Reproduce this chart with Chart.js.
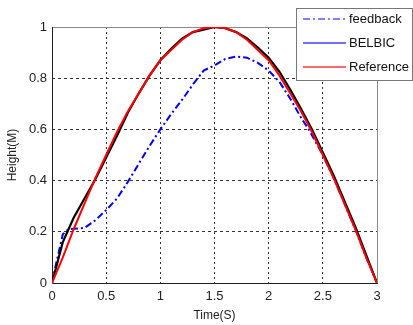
<!DOCTYPE html>
<html>
<head>
<meta charset="utf-8">
<script src="https://cdn.jsdelivr.net/npm/chart.js@4/dist/chart.umd.min.js"></script>
<style>
html,body{margin:0;padding:0;background:#fff;}
#wrap{width:413px;height:325px;}
</style>
</head>
<body>
<div id="wrap"><canvas id="c" width="413" height="325"></canvas></div>
<script>
// ---- data ----
const timeRef = [0,0.1,0.2,0.3,0.4,0.5,0.6,0.7,0.8,0.9,1.0,1.1,1.2,1.3,1.4,1.5,1.6,1.7,1.8,1.9,2.0,2.1,2.2,2.3,2.4,2.5,2.6,2.7,2.8,2.9,3.0];
const referenceVals = [0,0.10,0.21,0.31,0.41,0.50,0.59,0.67,0.74,0.81,0.87,0.91,0.95,0.98,0.995,1.0,0.995,0.98,0.95,0.91,0.87,0.81,0.74,0.67,0.59,0.50,0.41,0.31,0.21,0.10,0];
const belbicVals = [0,0.16,0.255,0.33,0.405,0.49,0.575,0.665,0.74,0.81,0.87,0.915,0.955,0.98,0.99,1.0,0.995,0.98,0.955,0.92,0.88,0.825,0.755,0.68,0.60,0.51,0.42,0.32,0.22,0.11,0];
const timeFb = [0,0.04,0.1,0.15,0.2,0.3,0.4,0.5,0.6,0.7,0.8,0.9,1.0,1.1,1.2,1.3,1.4,1.5,1.6,1.7,1.8,1.9,2.0,2.1,2.2,2.3,2.37,2.5,2.6,2.7,2.8,2.9,3.0];
const feedbackVals = [0,0.08,0.19,0.21,0.212,0.215,0.245,0.285,0.33,0.395,0.465,0.535,0.60,0.66,0.715,0.775,0.83,0.85,0.875,0.885,0.88,0.86,0.83,0.785,0.72,0.645,0.60,0.50,0.41,0.31,0.21,0.10,0];
const xTicks = [0,0.5,1,1.5,2,2.5,3];
const xTickLabels = ['0','0.5','1','1.5','2','2.5','3'];
const yTicks = [0,0.2,0.4,0.6,0.8,1];
const yTickLabels = ['0','0.2','0.4','0.6','0.8','1'];
const seriesNames = ['feedback','BELBIC','Reference'];

const pts = (xs, ys) => xs.map((x,i)=>({x:x,y:ys[i]}));

const legendStyle = [
  {color:'#7f7fff', dash:[7,3,2,3]},
  {color:'#7070ff', dash:[]},
  {color:'#ff6a6a', dash:[]}
];

const framePlugin = {
  id:'frame',
  beforeDatasetsDraw(chart){
    const {ctx, chartArea:a} = chart;
    ctx.save();
    ctx.lineWidth = 1;
    ctx.strokeStyle = '#8a8a8a';
    ctx.beginPath();
    ctx.moveTo(a.left, a.top+0.5); ctx.lineTo(a.right+0.5, a.top+0.5);
    ctx.lineTo(a.right+0.5, a.bottom);
    ctx.stroke();
    ctx.strokeStyle = '#222';
    ctx.beginPath();
    ctx.moveTo(a.left+0.5, a.top); ctx.lineTo(a.left+0.5, a.bottom+0.5);
    ctx.lineTo(a.right+1, a.bottom+0.5);
    ctx.stroke();
    ctx.restore();
  }
};

const legendPlugin = {
  id:'boxLegend',
  afterDraw(chart){
    const ctx = chart.ctx;
    const x0 = 296.5, y0 = 8.5, w = 116, h = 72;
    ctx.save();
    ctx.fillStyle = '#fff';
    ctx.fillRect(x0, y0, w, h);
    ctx.strokeStyle = '#777';
    ctx.lineWidth = 1;
    ctx.strokeRect(x0, y0, w, h);
    ctx.font = '13px "Liberation Sans", Arial, sans-serif';
    ctx.textBaseline = 'middle';
    ctx.fillStyle = '#111';
    chart.data.datasets.forEach((ds, i) => {
      const yy = 19 + i*24;
      const st = legendStyle[i];
      ctx.strokeStyle = st.color;
      ctx.lineWidth = 2;
      ctx.setLineDash(st.dash);
      ctx.beginPath();
      ctx.moveTo(303, yy); ctx.lineTo(346, yy);
      ctx.stroke();
      ctx.setLineDash([]);
      ctx.fillText(ds.label, 349, yy);
    });
    ctx.restore();
  }
};

const labelFor = (vals, labels) => (v) => {
  const i = vals.findIndex(t => Math.abs(t - v) < 1e-9);
  return i >= 0 ? labels[i] : '';
};

new Chart(document.getElementById('c'), {
  type:'line',
  data:{
    datasets:[
      {label:seriesNames[0], data:pts(timeFb, feedbackVals), borderColor:'#0000ff', borderWidth:2, borderDash:[7,3,2,3], pointRadius:0, tension:0, order:3},
      {label:seriesNames[1], data:pts(timeRef, belbicVals), borderColor:'#000000', borderWidth:2.2, pointRadius:0, tension:0, order:2},
      {label:seriesNames[2], data:pts(timeRef, referenceVals), borderColor:'#ff0000', borderWidth:2, pointRadius:0, tension:0, order:1}
    ]
  },
  options:{
    responsive:false,
    animation:false,
    events:[],
    layout:{padding:{left:0,right:36,top:27,bottom:0}},
    plugins:{legend:{display:false}, tooltip:{enabled:false}},
    scales:{
      x:{
        type:'linear', min:0, max:3,
        afterBuildTicks(s){ s.ticks = xTicks.map(v=>({value:v})); },
        afterFit(s){ s.height = 42; },
        grid:{color:(c)=> (c.tick && (c.tick.value===0 || c.tick.value===3)) ? 'rgba(0,0,0,0)' : '#333', lineWidth:1, drawTicks:false},
        border:{display:false, dash:[2,3]},
        ticks:{padding:6, color:'#222', font:{family:'"Liberation Sans", Arial, sans-serif', size:13}, maxRotation:0, autoSkip:false, callback:labelFor(xTicks, xTickLabels)},
        title:{display:true, text:'Time(S)', color:'#222', font:{family:'"Liberation Sans", Arial, sans-serif', size:12}, padding:{top:0,bottom:2}}
      },
      y:{
        type:'linear', min:0, max:1,
        afterBuildTicks(s){ s.ticks = yTicks.map(v=>({value:v})); },
        afterFit(s){ s.width = 52; },
        grid:{color:(c)=> (c.tick && (c.tick.value===0 || c.tick.value===1)) ? 'rgba(0,0,0,0)' : '#333', lineWidth:1, drawTicks:false},
        border:{display:false, dash:[3,3]},
        ticks:{padding:5, color:'#222', font:{family:'"Liberation Sans", Arial, sans-serif', size:13}, autoSkip:false, callback:labelFor(yTicks, yTickLabels)},
        title:{display:true, text:'Height(M)', color:'#222', font:{family:'"Liberation Sans", Arial, sans-serif', size:12}, padding:{top:5,bottom:0}}
      }
    }
  },
  plugins:[framePlugin, legendPlugin]
});
</script>
</body>
</html>
